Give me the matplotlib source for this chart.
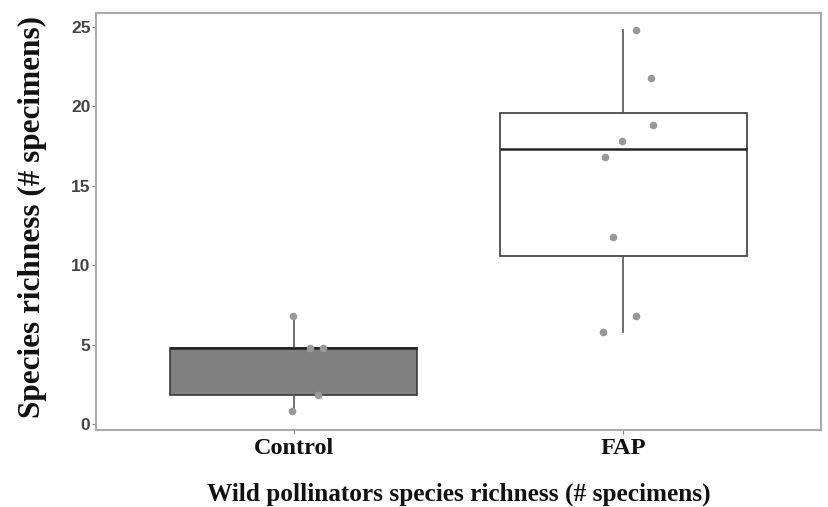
import matplotlib
matplotlib.use("Agg")
import matplotlib.pyplot as plt
import numpy as np

categories = ["Control", "FAP"]
control_values = [0.8, 1.8, 4.8, 4.8, 6.8]
fap_values = [5.8, 6.8, 11.8, 16.8, 17.8, 18.8, 21.8, 24.8]
# horizontal offsets of the jittered points (category units)
control_jitter = [-0.005, 0.075, 0.05, 0.09, -0.002]
fap_jitter = [-0.06, 0.04, -0.03, -0.055, -0.005, 0.09, 0.085, 0.04]
yticks = [0, 5, 10, 15, 20, 25]

fig = plt.figure(figsize=(8.29, 5.07), dpi=100)
ax = fig.add_axes([0.1158, 0.1519, 0.8745, 0.8234])

data = [control_values, fap_values]
fills = ["#808080", "#ffffff"]
bp = ax.boxplot(data, positions=[1, 2], widths=0.75, whis=(0, 100),
                patch_artist=True, showcaps=False, showfliers=False,
                medianprops=dict(color="#222222", linewidth=1.8),
                whiskerprops=dict(color="#555555", linewidth=1.2),
                boxprops=dict(linewidth=1.2))
for patch, fc in zip(bp["boxes"], fills):
    patch.set_facecolor(fc)
    patch.set_edgecolor("#3a3a3a")

for i, (vals, jit) in enumerate(zip(data, [control_jitter, fap_jitter])):
    xs = np.array(jit) + (i + 1)
    ax.scatter(xs, vals, s=30, color="#999999", zorder=5, linewidths=0)

ax.set_xlim(0.4, 2.6)
ax.set_ylim(-0.38, 25.9)
ax.set_xticks([1, 2])
ax.set_xticklabels(categories, fontfamily="Liberation Serif", fontweight="bold",
                   fontsize=17.5, color="#111111")
ax.set_yticks(yticks)
ax.set_yticklabels([str(t) for t in yticks], fontfamily="Liberation Sans",
                   fontweight="bold", fontsize=12.5, color="#444444")
ax.tick_params(axis="both", length=3, width=0.8, color="#888888", pad=1)
ax.tick_params(axis="x", pad=3)
for sp in ax.spines.values():
    sp.set_color("#aaaaaa")
    sp.set_linewidth(1.5)

ax.set_ylabel("Species richness (# specimens)", fontfamily="Liberation Serif",
              fontweight="bold", fontsize=22.5, color="#111111", va="center")
ax.yaxis.set_label_coords(-0.088, 0.51)
ax.set_xlabel("Wild pollinators species richness (# specimens)",
              fontfamily="Liberation Serif", fontweight="bold", fontsize=18.2,
              color="#111111", va="center")
ax.xaxis.set_label_coords(0.5, -0.155)

fig.savefig("out.png", dpi=100, facecolor="white")
